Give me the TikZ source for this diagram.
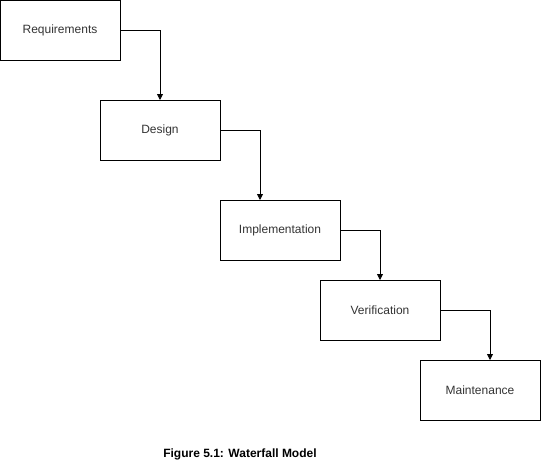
\documentclass[tikz,border=0pt]{standalone}
\usepackage{fontspec}
\setmainfont{Liberation Sans}
\usepackage{tikz}
\usetikzlibrary{positioning,calc,arrows.meta}

\begin{document}
\begin{tikzpicture}[x=1pt, y=-1pt,
  phase/.style={draw, line width=0.8pt, minimum width=120pt, minimum height=60pt, inner sep=0pt, outer sep=0pt, font=\fontsize{12pt}{14pt}\selectfont, text=black!80},
  flow/.style={line width=0.8pt, -{Triangle[length=6pt, width=6pt]}}]
  \useasboundingbox (0,0) rectangle (541,471);

  % Phases
  \node[phase] (req)  at (60, 30)   {Requirements};
  \node[phase] (des)  at (160, 130) {Design};
  \node[phase] (impl) at (280, 230) {Implementation};
  \node[phase] (ver)  at (380, 310) {Verification};
  \node[phase] (main) at (480, 390) {Maintenance};

  % Flow between phases
  \draw[flow] (req.east) -| (des.north);
  \draw[flow] (des.east) -| ([xshift=-20pt]impl.north);
  \draw[flow] (impl.east) -| (ver.north);
  \draw[flow] (ver.east) -| ([xshift=10pt]main.north);

  % Caption
  \node[font=\bfseries\fontsize{12pt}{14pt}\selectfont] (cap) at (240, 454) {Figure 5.1: Waterfall Model};
\end{tikzpicture}
\end{document}
